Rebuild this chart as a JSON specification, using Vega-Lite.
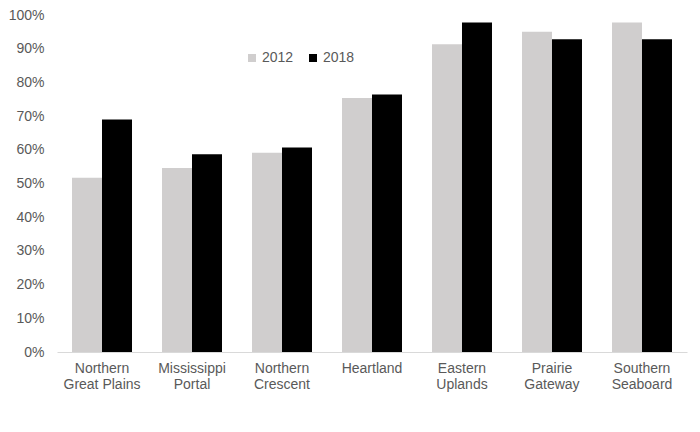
{
  "$schema": "https://vega.github.io/schema/vega-lite/v6.json",
  "autosize": "none",
  "width": 630,
  "height": 337,
  "padding": {"left": 57, "top": 15, "right": 13, "bottom": 80},
  "background": "white",
  "data": {
    "values": [
      {"region": "Northern Great Plains", "year": "2012", "share": 0.517},
      {"region": "Northern Great Plains", "year": "2018", "share": 0.690},
      {"region": "Mississippi Portal", "year": "2012", "share": 0.546},
      {"region": "Mississippi Portal", "year": "2018", "share": 0.587},
      {"region": "Northern Crescent", "year": "2012", "share": 0.591},
      {"region": "Northern Crescent", "year": "2018", "share": 0.607},
      {"region": "Heartland", "year": "2012", "share": 0.754},
      {"region": "Heartland", "year": "2018", "share": 0.764},
      {"region": "Eastern Uplands", "year": "2012", "share": 0.913},
      {"region": "Eastern Uplands", "year": "2018", "share": 0.978},
      {"region": "Prairie Gateway", "year": "2012", "share": 0.950},
      {"region": "Prairie Gateway", "year": "2018", "share": 0.928},
      {"region": "Southern Seaboard", "year": "2012", "share": 0.978},
      {"region": "Southern Seaboard", "year": "2018", "share": 0.928}
    ]
  },
  "mark": {"type": "bar"},
  "encoding": {
    "x": {
      "field": "region",
      "type": "nominal",
      "sort": null,
      "scale": {"paddingInner": 0.3333, "paddingOuter": 0.1667},
      "axis": {
        "title": null,
        "labelAngle": 0,
        "ticks": false,
        "domainColor": "#d9d9d9",
        "domainWidth": 1,
        "labelColor": "#595959",
        "labelFont": "Liberation Sans",
        "labelFontSize": 14,
        "labelLineHeight": 16.7,
        "labelPadding": 9,
        "labelBaseline": "top",
        "labelExpr": "datum.value == 'Northern Great Plains' ? ['Northern', 'Great Plains'] : split(datum.value, ' ')"
      }
    },
    "xOffset": {"field": "year", "type": "nominal"},
    "y": {
      "field": "share",
      "type": "quantitative",
      "scale": {"domain": [0, 1], "nice": false},
      "axis": {
        "title": null,
        "values": [0, 0.1, 0.2, 0.3, 0.4, 0.5, 0.6, 0.7, 0.8, 0.9, 1],
        "format": ".0%",
        "grid": false,
        "domain": false,
        "ticks": false,
        "labelColor": "#595959",
        "labelFont": "Liberation Sans",
        "labelFontSize": 14,
        "labelPadding": 13
      }
    },
    "color": {
      "field": "year",
      "type": "nominal",
      "scale": {"domain": ["2012", "2018"], "range": ["#d0cece", "#000000"]},
      "legend": {
        "title": null,
        "orient": "none",
        "legendX": 188,
        "legendY": 36,
        "direction": "horizontal",
        "symbolType": "square",
        "symbolSize": 64,
        "symbolStrokeWidth": 0,
        "labelColor": "#595959",
        "labelFont": "Liberation Sans",
        "labelFontSize": 14,
        "labelOffset": 3,
        "columnPadding": 12
      }
    }
  },
  "config": {
    "view": {"stroke": null}
  }
}
